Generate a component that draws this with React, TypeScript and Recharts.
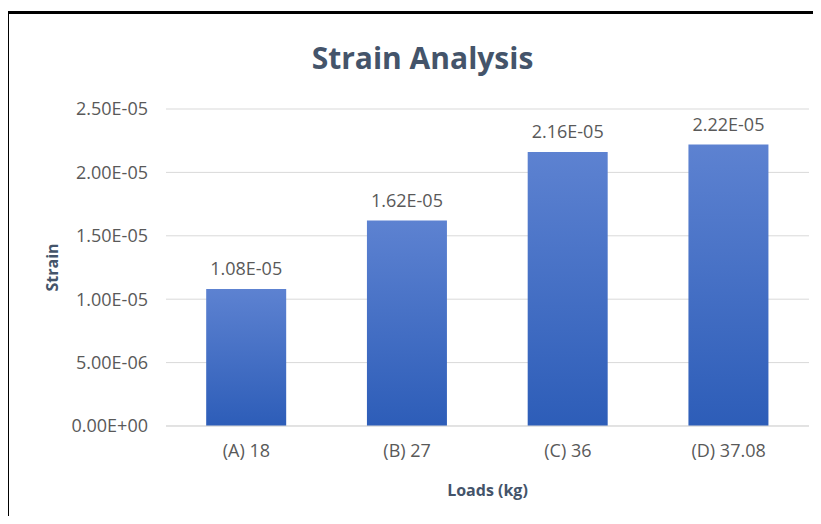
import { BarChart, Bar, XAxis, YAxis, CartesianGrid, LabelList } from "recharts";

const loads = ["(A) 18", "(B) 27", "(C) 36", "(D) 37.08"];
const strain = [1.08e-5, 1.62e-5, 2.16e-5, 2.22e-5];
const yTicks = [0, 5e-6, 1e-5, 1.5e-5, 2e-5, 2.5e-5];

const data = loads.map((name, i) => ({ name, strain: strain[i] }));

const FONT = "'Open Sans', 'Noto Sans', sans-serif";
const sci = (v: number) => v.toExponential(2).toUpperCase().replace(/E([+-])(\d)$/, "E$10$2");

export default function App() {
  return (
    <div style={{ position: "relative", width: 821, height: 524, margin: -8, overflow: "hidden", background: "#fff", fontFamily: FONT }}>
      <div
        style={{
          position: "absolute",
          left: 6,
          top: 11,
          width: 840,
          height: 540,
          border: "3px solid #000",
        }}
      />
      <div
        style={{
          position: "absolute",
          left: 0,
          top: 36,
          width: 845,
          textAlign: "center",
          fontSize: 30,
          fontWeight: 700,
          color: "#44546A",
          lineHeight: "44px",
        }}
      >
        Strain Analysis
      </div>
      <div style={{ position: "absolute", left: 0, top: 0 }}>
        <BarChart width={821} height={524} data={data} margin={{ top: 109, right: 12, bottom: 48, left: 40 }} barCategoryGap="25%">
          <defs>
            <linearGradient id="barFill" x1="0" y1="0" x2="0" y2="1">
              <stop offset="0%" stopColor="#5D82D1" />
              <stop offset="100%" stopColor="#2D5DB8" />
            </linearGradient>
          </defs>
          <CartesianGrid vertical={false} stroke="#D9D9D9" strokeWidth={1} />
          <XAxis
            dataKey="name"
            height={50}
            tickLine={false}
            axisLine={{ stroke: "#D9D9D9" }}
            tick={{ fill: "#595959", fontSize: 18, fontFamily: FONT }}
            tickMargin={12}
            label={{ value: "Loads (kg)", position: "insideBottom", offset: -20, fill: "#44546A", fontSize: 16, fontWeight: 700, fontFamily: FONT }}
          />
          <YAxis
            width={126}
            domain={[0, 2.5e-5]}
            ticks={yTicks}
            tickFormatter={sci}
            tickLine={false}
            axisLine={false}
            tickSize={0}
            tickMargin={18}
            tick={{ fill: "#595959", fontSize: 18, fontFamily: FONT }}
            label={{ value: "Strain", angle: -90, position: "insideLeft", offset: 12, fill: "#44546A", fontSize: 16, fontWeight: 700, fontFamily: FONT, style: { textAnchor: "middle" } }}
          />
          <Bar dataKey="strain" fill="url(#barFill)" isAnimationActive={false}>
            <LabelList dataKey="strain" position="top" offset={14} formatter={(v: any) => sci(Number(v))} fill="#595959" fontSize={18} fontFamily={FONT} />
          </Bar>
        </BarChart>
      </div>
    </div>
  );
}
